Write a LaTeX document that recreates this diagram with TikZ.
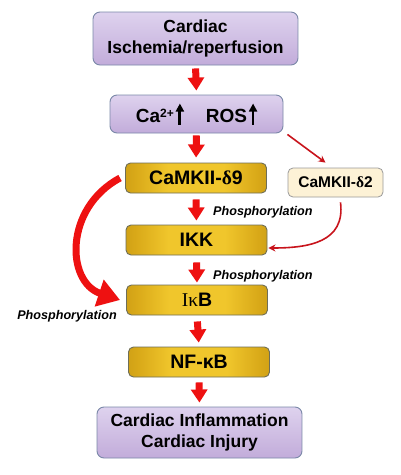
\documentclass[tikz,border=0pt]{standalone}
\usepackage{fontspec}
\setmainfont{Liberation Sans}
\newfontfamily\serifgr{Liberation Serif}
\usetikzlibrary{arrows.meta,calc}
\definecolor{purpL}{HTML}{DED2EE}
\definecolor{purpD}{HTML}{C2ACDA}
\definecolor{purpB}{HTML}{7A88A8}
\definecolor{goldL}{HTML}{F0C62C}
\definecolor{goldM}{HTML}{D8A818}
\definecolor{goldD}{HTML}{946E0C}
\definecolor{goldB}{HTML}{6E6E58}
\definecolor{creamF}{HTML}{FDF2D6}
\definecolor{creamB}{HTML}{9A9A9A}
\definecolor{arrred}{HTML}{EE1111}
\definecolor{thinred}{HTML}{C8141C}
\pgfdeclarehorizontalshading{goldshade}{100bp}{color(0bp)=(goldD); color(28bp)=(goldM); color(40bp)=(goldL); color(60bp)=(goldL); color(72bp)=(goldM); color(100bp)=(goldD)}
\newcommand{\uparr}{\tikz[x=1pt,y=1pt,baseline=0pt]\draw[line width=2.8pt,-{Triangle[width=8pt,length=8pt]}] (0,-2)--(0,19);}
\newcommand{\supr}[1]{\raisebox{5.5pt}{\fontsize{12}{12}\selectfont #1}}
\begin{document}
\begin{tikzpicture}[x=1pt,y=-1pt,
  purplebox/.style={draw=purpB, line width=0.9pt, rounded corners=7pt, top color=purpL, bottom color=purpD, font=\bfseries\fontsize{17.5}{20.5}\selectfont, align=center, inner sep=0pt},
  goldbox/.style={draw=goldB, line width=0.9pt, rounded corners=5pt, shading=goldshade, minimum width=141pt, minimum height=30pt, inner sep=0pt, font=\bfseries\fontsize{19.5}{21}\selectfont},
  creambox/.style={draw=creamB, line width=0.8pt, rounded corners=5pt, fill=creamF, minimum width=95pt, minimum height=29pt, inner sep=0pt, font=\bfseries\fontsize{15.5}{17}\selectfont},
  fatarrow/.style={draw=arrred, line width=7pt, -{Triangle[width=16pt,length=13pt]}},
  thinarrow/.style={draw=thinred, line width=1.6pt, -{Stealth[width=7pt,length=7pt]}},
  biglabel/.style={font=\bfseries\itshape\fontsize{12.6}{14}\selectfont, inner sep=0pt}
]
\path[use as bounding box, fill=white] (0,0) rectangle (400,475);

\node[purplebox, minimum width=205pt, minimum height=53pt] (b1) at (195.5,38.5) {Cardiac\\Ischemia/reperfusion};
\node[purplebox, minimum width=173pt, minimum height=38pt, font=\bfseries\fontsize{19}{21}\selectfont] (b2) at (196.5,114) {Ca\supr{2+}\hspace{2pt}\uparr\hspace{22pt}ROS\hspace{2pt}\uparr};
\node[goldbox] (d9) at (196,178) {CaMKII-{\serifgr δ}9};
\node[creambox] (d2) at (335.5,182.5) {CaMKII-{\serifgr δ}2};
\node[goldbox] (ikk) at (196.5,240) {IKK};
\node[goldbox] (ikb) at (197,300) {{\serifgr\mdseries Iκ}B};
\node[goldbox] (nfkb) at (199,362) {NF-κB};
\node[purplebox, minimum width=205pt, minimum height=51pt] (b7) at (199.5,432.5) {Cardiac Inflammation\\Cardiac Injury};

\draw[fatarrow, shorten <=3pt, shorten >=4pt] (b1.south) -- (b2.north);
\draw[fatarrow, shorten <=2pt, shorten >=5pt] (b2.south) -- (d9.north);
\draw[fatarrow, shorten <=6pt, shorten >=4pt] (d9.south) -- (ikk.north);
\draw[fatarrow, shorten <=7pt, shorten >=2pt] (ikk.south) -- (ikb.north);
\draw[fatarrow, shorten <=6pt, shorten >=4pt] (ikb.south) -- (nfkb.north);
\draw[fatarrow, shorten <=5pt, shorten >=4pt] (nfkb.south) -- (b7.north);

\node[biglabel, anchor=west] (ph1) at (213,212) {Phosphorylation};
\node[biglabel, anchor=west] (ph2) at (213,276) {Phosphorylation};
\node[biglabel] (ph3) at (67,316) {Phosphorylation};

\draw[thinarrow] ($(b2.south east)+(4,1)$) -- ($(d2.north)+(-10,-5)$);
\draw[thinarrow] ($(d2.south)+(5,5)$) .. controls +(5,40) and +(40,0) .. ($(ikk.east)+(1,8)$);

\draw[draw=arrred, line width=7pt, -{Triangle[width=27pt,length=22pt]}]
  ($(d9.west)+(-5,0)$) .. controls (64,208) and (66,282) .. ($(ikb.west)+(-6,0)$);
\end{tikzpicture}
\end{document}
